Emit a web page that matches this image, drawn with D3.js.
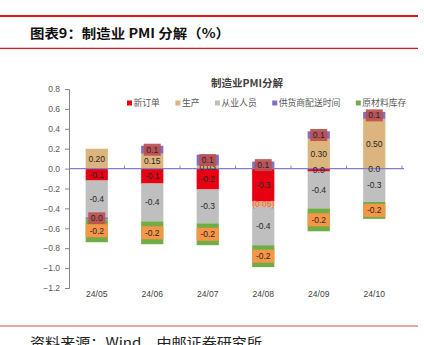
<!DOCTYPE html>
<html><head><meta charset="utf-8">
<script src="https://cdn.jsdelivr.net/npm/d3@7"></script>
<style>body{margin:0;background:#fff}svg{display:block}</style>
</head><body>
<script>
const categories = ["24/05","24/06","24/07","24/08","24/09","24/10"];
const seriesNames = ["新订单","生产","从业人员","供货商配送时间","原材料库存"];
const newOrders   = [-0.12,-0.15,-0.21,-0.33,-0.03,-0.005];
const production  = [0.20, 0.15, 0.03,-0.05, 0.30, 0.50];
const employment  = [-0.37,-0.38,-0.34,-0.39,-0.37,-0.33];
const delivery    = [-0.02, 0.08, 0.11, 0.07, 0.075, 0.07];
const inventory   = [-0.23,-0.23,-0.22,-0.22,-0.23,-0.17];
const yTicks = [0.8,0.6,0.4,0.2,0.0,-0.2,-0.4,-0.6,-0.8,-1.0,-1.2];
const headerText = "图表9：制造业 PMI 分解（%）";
const chartTitle = "制造业PMI分解";
const sourceText = "资料来源：Wind，中邮证券研究所";

const colors = ["#e60012","#dcb57e","#bfbfbf","#8470c0","#70ad47"];
const seriesValues = [newOrders, production, employment, delivery, inventory];

const W = 424, H = 345;
const svg = d3.select("body").append("svg").attr("width", W).attr("height", H);

// header/footer rules
svg.append("line").attr("x1",0).attr("x2",418).attr("y1",16).attr("y2",16).attr("stroke","#d9161c").attr("stroke-width",2);
svg.append("line").attr("x1",0).attr("x2",418).attr("y1",48.3).attr("y2",48.3).attr("stroke","#d9161c").attr("stroke-width",1.3);
svg.append("line").attr("x1",0).attr("x2",418).attr("y1",326).attr("y2",326).attr("stroke","#e48888").attr("stroke-width",1.5);
svg.append("text").attr("x",30).attr("y",38).attr("font-family","'Noto Sans CJK SC'").attr("font-weight","bold")
  .attr("font-size",13).attr("textLength",200).attr("lengthAdjust","spacingAndGlyphs").attr("fill","#111").text(headerText);
svg.append("text").attr("x",30).attr("y",347).attr("font-family","'Noto Sans CJK SC'")
  .attr("font-size",13).attr("textLength",232).attr("lengthAdjust","spacingAndGlyphs").attr("fill","#222").text(sourceText);

const x = d3.scaleBand().domain(categories).range([69, 402]).paddingInner(0.6).paddingOuter(0.3);
const y = d3.scaleLinear().domain([-1.2, 0.8]).range([288, 89]);

const rows = categories.map((c,i)=>{const o={cat:c}; seriesNames.forEach((s,j)=>o[s]=seriesValues[j][i]); return o;});
const stacked = d3.stack().keys(seriesNames).offset(d3.stackOffsetDiverging)(rows);

// y axis
const yAxis = d3.axisLeft(y).tickValues(yTicks).tickFormat(d3.format(".1f")).tickSize(4).tickPadding(5);
const gy = svg.append("g").attr("transform","translate(69,0)").call(yAxis);
gy.select(".domain").attr("stroke","#868686");
gy.selectAll(".tick line").attr("stroke","#868686");
gy.selectAll("text").attr("font-family","'Liberation Sans',Arial").attr("font-size",8.5).attr("fill","#595959");

// bars
const gBars = svg.append("g");
stacked.forEach((layer,j)=>{
  gBars.selectAll(null).data(layer).enter().append("rect")
    .attr("x", d=>x(d.data.cat)).attr("width", x.bandwidth())
    .attr("y", d=>y(Math.max(d[0],d[1]))).attr("height", d=>Math.abs(y(d[0])-y(d[1])))
    .attr("fill", colors[j]);
});

// zero axis line
const step = x.step();
svg.append("line").attr("x1",69).attr("x2",404).attr("y1",y(0)).attr("y2",y(0)).attr("stroke","#8080c4").attr("stroke-width",1.2);
d3.range(1,7).forEach(i=>{
  const tx = 69 + i*step;
  svg.append("line").attr("x1",tx).attr("x2",tx).attr("y1",y(0)).attr("y2",y(0)-3).attr("stroke","#8080c4").attr("stroke-width",1);
});

// category labels
const xAxis = d3.axisBottom(x).tickSize(0).tickPadding(0);
const gx = svg.append("g").attr("transform","translate(0,291)").call(xAxis);
gx.select(".domain").remove();
gx.selectAll("text").attr("font-family","'Liberation Sans',Arial").attr("font-size",8.5).attr("fill","#404040").attr("dy","0.71em");

// data labels
const fmt1 = v => { const r = Math.round(v*10)/10; return (r===0?0:r).toFixed(1); };
const fmt2 = v => v < 0 ? "(" + Math.abs(v).toFixed(2) + ")" : v.toFixed(2);
const gLab = svg.append("g");
stacked.forEach((layer,j)=>{
  layer.forEach(d=>{
    const cx = x(d.data.cat) + x.bandwidth()/2;
    const cy = y((d[0]+d[1])/2);
    const v = d.data[seriesNames[j]];
    if (j===3) {
      gLab.append("rect").attr("x",cx-8.5).attr("y",cy-6).attr("width",17).attr("height",12).attr("fill","#bd4f4f").attr("opacity",0.92);
    }
    if (j===4) {
      gLab.append("rect").attr("x",x(d.data.cat)).attr("y",cy-6.5).attr("width",x.bandwidth()).attr("height",13).attr("fill","#f79646");
    }
    const txt = j===1 ? fmt2(v) : fmt1(v);
    gLab.append("text").attr("x",cx).attr("y",cy).attr("dy","0.35em").attr("text-anchor","middle")
      .attr("font-family","'Liberation Sans',Arial").attr("font-size",8.5)
      .attr("fill", (j===1 && v<0) ? "#ff5a4a" : "#262626").text(txt);
  });
});

// chart title
svg.append("text").attr("x",247).attr("y",87).attr("text-anchor","middle").attr("font-family","'Noto Sans CJK SC'")
  .attr("font-weight","bold").attr("font-size",10.5).attr("fill","#404040").text(chartTitle);

// legend
let lx = 127;
const gLeg = svg.append("g");
seriesNames.forEach((s,j)=>{
  gLeg.append("rect").attr("x",lx).attr("y",100.5).attr("width",5).attr("height",5).attr("fill",colors[j]);
  const t = gLeg.append("text").attr("x",lx+6.5).attr("y",103).attr("dy","0.35em").attr("font-family","'Noto Sans CJK SC'")
    .attr("font-size",8.8).attr("fill","#595959").text(s);
  lx = lx + 6.5 + t.node().getComputedTextLength() + 15.5;
});
</script>
</body></html>
